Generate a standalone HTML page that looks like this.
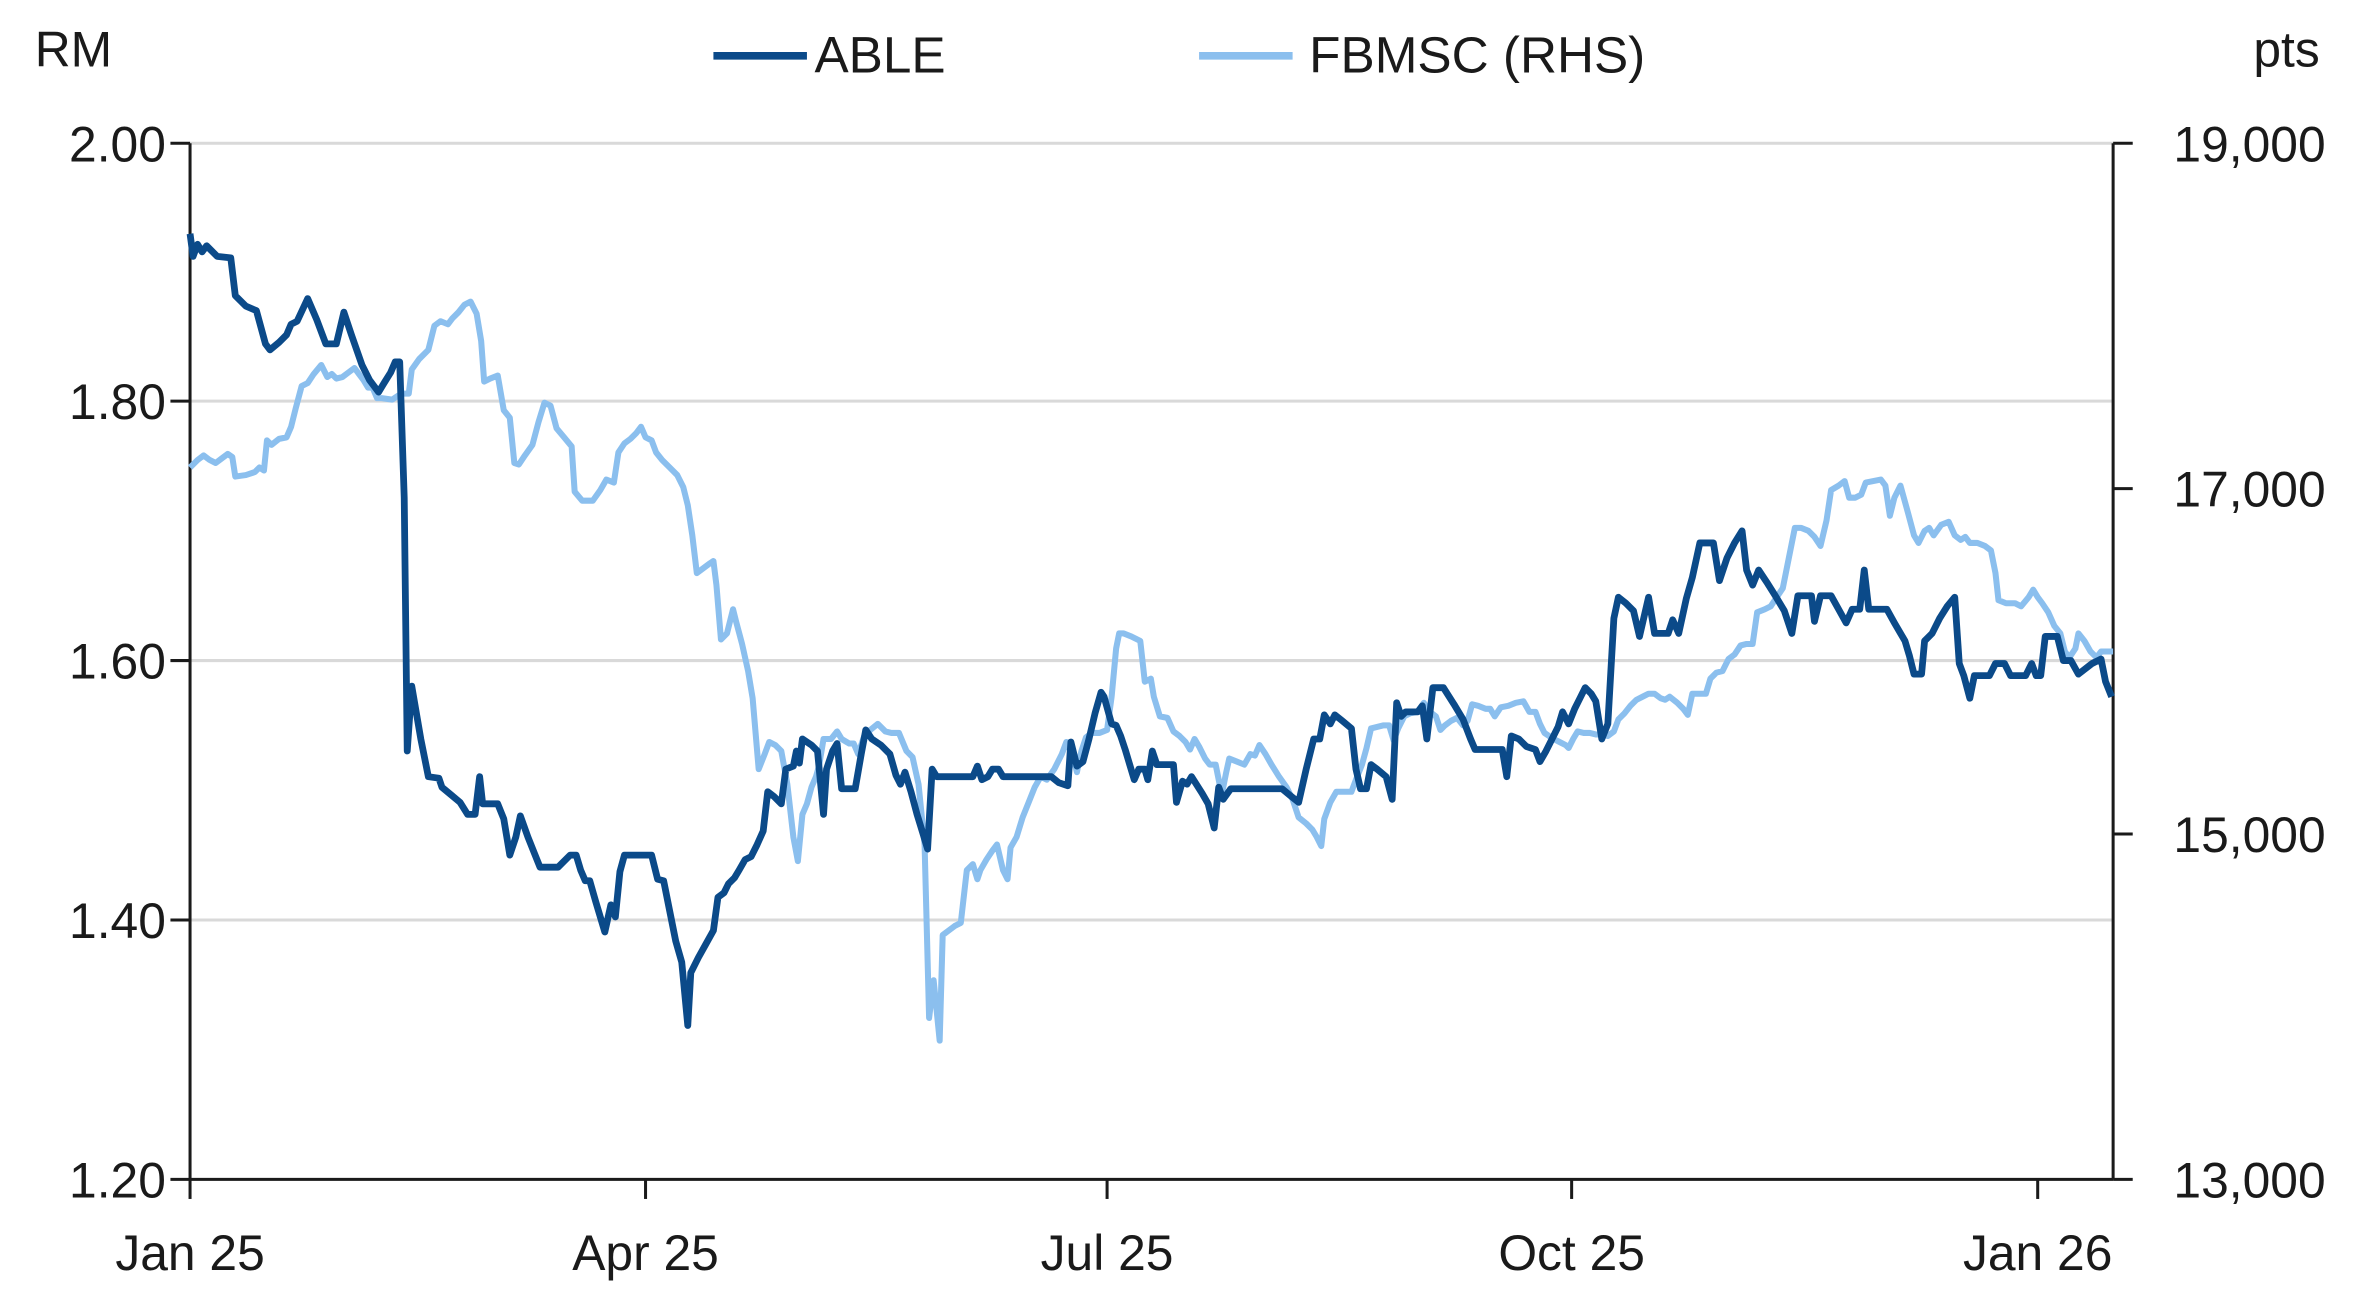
<!DOCTYPE html>
<html><head><meta charset="utf-8"><style>
html,body{margin:0;padding:0;background:#fff;}
svg{display:block;}
text{font-family:"Liberation Sans",sans-serif;fill:#1a1a1a;}
</style></head><body>
<svg width="2365" height="1300" viewBox="0 0 1568 862" preserveAspectRatio="none">
<g stroke="#d9d9d9" stroke-width="2">
<line x1="126" y1="95" x2="1401" y2="95"/>
<line x1="126" y1="266" x2="1401" y2="266"/>
<line x1="126" y1="438" x2="1401" y2="438"/>
<line x1="126" y1="610" x2="1401" y2="610"/>
</g>
<g stroke="#1a1a1a" stroke-width="2" fill="none">
<line x1="126" y1="95" x2="126" y2="782"/>
<line x1="1401" y1="95" x2="1401" y2="782"/>
<line x1="126" y1="782" x2="1401" y2="782"/>
<line x1="113" y1="95" x2="126" y2="95"/><line x1="113" y1="266" x2="126" y2="266"/><line x1="113" y1="438" x2="126" y2="438"/><line x1="113" y1="610" x2="126" y2="610"/><line x1="113" y1="782" x2="126" y2="782"/>
<line x1="1401" y1="95" x2="1414" y2="95"/><line x1="1401" y1="324" x2="1414" y2="324"/><line x1="1401" y1="553" x2="1414" y2="553"/><line x1="1401" y1="782" x2="1414" y2="782"/>
<line x1="126" y1="782" x2="126" y2="795"/><line x1="428" y1="782" x2="428" y2="795"/><line x1="734" y1="782" x2="734" y2="795"/><line x1="1042" y1="782" x2="1042" y2="795"/><line x1="1351" y1="782" x2="1351" y2="795"/>
</g>
<g font-size="33" text-anchor="end">
<text x="110" y="107">2.00</text><text x="110" y="278">1.80</text><text x="110" y="450">1.60</text><text x="110" y="622">1.40</text><text x="110" y="794">1.20</text>
</g>
<g font-size="33" text-anchor="start">
<text x="1441" y="107">19,000</text><text x="1441" y="336">17,000</text><text x="1441" y="565">15,000</text><text x="1441" y="794">13,000</text>
</g>
<g font-size="33" text-anchor="middle">
<text x="126" y="842">Jan 25</text><text x="428" y="842">Apr 25</text><text x="734" y="842">Jul 25</text><text x="1042" y="842">Oct 25</text><text x="1351" y="842">Jan 26</text>
</g>
<text x="23" y="44" font-size="33">RM</text>
<text x="1494" y="44" font-size="33">pts</text>
<line x1="473" y1="37" x2="535" y2="37" stroke="#0b4a89" stroke-width="5"/>
<text x="540" y="48" font-size="34">ABLE</text>
<line x1="795" y1="37" x2="857" y2="37" stroke="#8bbfee" stroke-width="5"/>
<text x="868" y="48" font-size="34">FBMSC (RHS)</text>
<polyline fill="none" stroke="#8bbfee" stroke-width="4" stroke-linejoin="round" points="126,310 128,308 131,305 135,302 139,305 143,307 147,304 151,301 154,303 156,316 163,315 169,313 172,310 175,312 177,292 180,295 185,291 190,290 193,283 196,271 200,256 204,254 208,248 213,242 217,250 220,248 223,251 227,250 231,247 235,244 238,248 241,252 244,257 247,257 250,264 253,264 260,265 266,261 271,261 273,245 278,238 284,232 288,216 292,213 297,215 300,211 304,207 308,202 312,200 316,208 319,226 321,253 325,251 330,249 334,272 338,277 341,307 344,308 348,302 353,295 357,280 361,267 365,269 369,284 374,290 379,296 381,326 386,332 393,332 398,325 402,318 407,320 410,300 414,294 418,291 422,287 425,283 428,290 432,292 435,300 439,305 444,310 449,315 453,323 456,335 459,355 462,380 466,377 470,374 473,372 475,388 478,424 482,420 486,404 488,412 492,427 496,445 499,463 503,510 507,500 510,492 514,494 518,498 522,520 526,555 529,571 532,540 535,533 538,522 541,515 543,508 546,490 551,490 555,485 558,490 563,493 566,493 569,500 573,488 577,484 582,480 587,485 591,486 596,486 601,498 605,502 609,520 613,560 616,675 619,650 623,690 625,620 629,617 633,614 637,612 641,577 645,573 648,583 650,577 654,570 658,564 661,560 665,577 668,583 670,562 674,555 678,542 682,532 686,522 690,515 694,517 699,510 704,500 707,492 711,500 714,512 717,498 720,489 724,486 729,486 734,484 737,462 740,430 742,420 745,420 750,422 756,425 759,452 763,450 765,462 769,475 774,476 778,485 782,488 786,492 789,497 792,490 795,495 799,503 802,507 806,507 810,527 813,512 815,503 820,505 825,507 829,500 832,501 835,494 839,500 843,507 848,515 853,522 857,530 861,542 866,546 870,550 873,555 876,561 878,543 882,532 886,525 890,525 893,525 896,525 899,517 903,507 906,496 909,483 913,482 917,481 921,481 924,491 927,483 931,475 935,473 940,472 944,466 948,472 952,475 955,484 958,481 962,478 966,476 970,481 973,478 976,467 980,468 985,470 988,470 991,475 995,469 1000,468 1005,466 1010,465 1014,472 1018,472 1021,480 1024,486 1027,488 1030,490 1034,492 1038,494 1040,496 1043,490 1046,485 1050,486 1054,486 1058,487 1063,487 1066,488 1070,485 1073,477 1077,473 1081,468 1085,464 1089,462 1093,460 1097,460 1101,463 1104,464 1107,462 1112,466 1116,470 1119,474 1122,460 1126,460 1131,460 1134,450 1138,446 1142,445 1146,437 1150,434 1154,428 1158,427 1162,427 1165,406 1170,404 1174,402 1178,396 1182,390 1186,370 1190,350 1194,350 1199,352 1203,356 1207,362 1211,345 1214,325 1219,322 1223,319 1226,330 1230,330 1234,328 1237,320 1242,319 1247,318 1250,322 1253,342 1256,330 1260,322 1265,340 1269,355 1272,360 1276,352 1279,350 1282,355 1287,348 1292,346 1296,355 1300,358 1303,356 1306,360 1311,360 1316,362 1320,365 1323,380 1325,398 1330,400 1336,400 1340,402 1345,396 1348,391 1351,396 1354,400 1358,406 1362,415 1366,420 1369,432 1372,436 1376,430 1378,420 1382,425 1386,432 1390,436 1393,432 1397,432 1401,432"/>
<polyline fill="none" stroke="#0b4a89" stroke-width="4.5" stroke-linejoin="round" points="126,155 128,170 131,162 134,167 137,163 144,170 153,171 156,196 163,203 170,206 176,228 179,232 185,227 190,222 193,215 197,213 204,198 210,212 216,228 223,228 228,207 233,222 240,242 245,252 251,260 254,255 259,247 262,240 265,240 268,330 270,498 273,455 279,490 284,515 291,516 293,522 299,527 305,532 310,540 315,540 318,515 320,533 330,533 334,543 338,567 342,555 345,541 350,555 354,565 358,575 370,575 378,567 382,567 385,577 388,584 391,584 395,598 401,618 405,600 408,608 411,578 414,567 432,567 436,583 440,584 444,604 448,624 452,638 456,680 458,645 463,635 468,626 473,617 476,595 480,592 483,586 487,582 490,577 494,570 498,568 502,560 506,551 509,525 513,528 518,533 521,510 526,508 528,498 530,506 532,490 538,494 542,498 546,540 548,510 552,498 555,493 558,523 567,523 571,500 574,484 578,490 584,494 590,500 594,514 597,520 600,512 604,525 608,540 612,553 615,563 618,510 621,515 645,515 648,508 651,517 655,515 658,510 662,510 665,515 697,515 702,519 708,521 710,492 714,508 718,505 722,490 726,473 730,459 732,462 737,480 740,481 743,488 746,497 749,507 752,517 755,510 759,510 761,517 764,498 767,507 778,507 780,532 784,518 787,520 790,515 797,526 801,533 805,549 808,522 811,530 816,523 850,523 856,528 861,532 866,510 871,490 875,490 878,474 882,480 885,474 890,478 896,483 899,510 902,523 906,523 909,507 913,510 919,515 923,530 926,466 929,475 932,472 940,472 943,468 946,490 950,456 957,456 964,467 970,477 975,490 978,497 996,497 999,515 1002,488 1007,490 1012,495 1018,497 1021,505 1025,498 1029,490 1033,482 1036,472 1040,480 1044,470 1048,462 1051,456 1055,460 1058,465 1062,490 1066,480 1070,410 1073,396 1078,400 1083,405 1087,422 1093,396 1097,420 1106,420 1109,411 1113,420 1118,397 1122,383 1127,360 1136,360 1140,385 1145,370 1150,360 1155,352 1158,378 1162,388 1166,378 1172,387 1177,395 1183,405 1188,420 1192,395 1201,395 1203,412 1207,395 1214,395 1219,404 1224,413 1228,404 1233,404 1236,378 1239,404 1251,404 1256,413 1263,425 1266,435 1269,447 1274,447 1276,425 1281,420 1286,410 1291,402 1296,396 1299,440 1302,448 1306,463 1309,448 1319,448 1323,440 1329,440 1333,448 1343,448 1347,440 1350,448 1353,448 1356,422 1364,422 1368,438 1373,438 1378,447 1387,440 1393,437 1396,452 1400,462"/>
</svg>
</body></html>
